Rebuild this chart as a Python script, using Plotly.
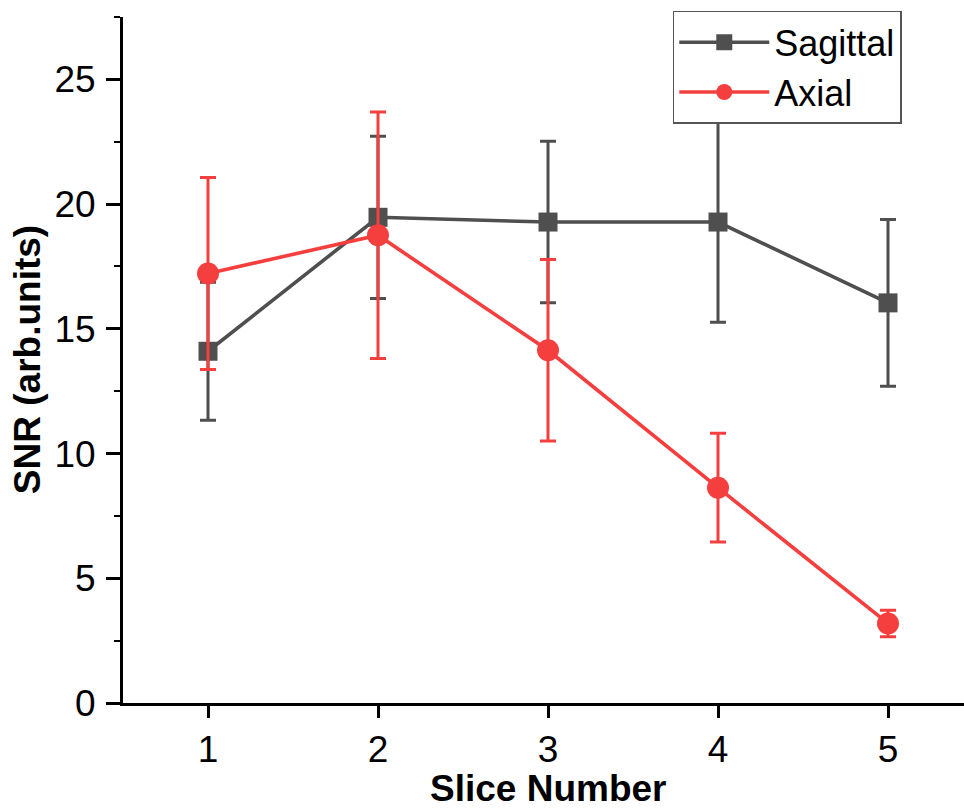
import plotly.graph_objects as go

slices = [1, 2, 3, 4, 5]
sagittal = [14.10, 19.47, 19.28, 19.28, 16.04]
sagittal_err = [2.77, 3.25, 3.24, 4.02, 3.34]
axial = [17.22, 18.75, 14.14, 8.63, 3.19]
axial_err = [3.85, 4.94, 3.64, 2.18, 0.53]

GRAY = "#4f4f4f"
RED = "#f53f3f"
FONT = "Liberation Sans, Arial, sans-serif"

fig = go.Figure()
fig.add_trace(go.Scatter(
    x=slices, y=sagittal, name="Sagittal", mode="lines+markers",
    line=dict(color=GRAY, width=3.6),
    marker=dict(symbol="square", size=19, color=GRAY),
    error_y=dict(type="data", array=sagittal_err, visible=True,
                 color=GRAY, thickness=3, width=8),
))
fig.add_trace(go.Scatter(
    x=slices, y=axial, name="Axial", mode="lines+markers",
    line=dict(color=RED, width=3.6),
    marker=dict(symbol="circle", size=22, color=RED),
    error_y=dict(type="data", array=axial_err, visible=True,
                 color=RED, thickness=3, width=8),
))

fig.update_layout(
    width=964, height=810,
    margin=dict(l=123, r=0, t=17, b=107),
    plot_bgcolor="white", paper_bgcolor="white",
    font=dict(family=FONT, size=37, color="black"),
    showlegend=True,
    legend=dict(
        x=0.926, y=1.009, xanchor="right", yanchor="top",
        bgcolor="white", bordercolor="#555555", borderwidth=1.5,
        font=dict(size=36, family=FONT),
        itemwidth=90, tracegroupgap=0,
    ),
    xaxis=dict(
        range=[0.5, 5.447], tickvals=slices, ticktext=[str(s) for s in slices],
        showgrid=False, zeroline=False,
        showline=True, linecolor="black", linewidth=3,
        ticks="outside", ticklen=12, tickwidth=2.5, tickcolor="black",
        tickfont=dict(size=37, family=FONT),
    ),
    yaxis=dict(
        range=[0, 27.5], tickvals=[0, 5, 10, 15, 20, 25],
        showgrid=False, zeroline=False,
        showline=True, linecolor="black", linewidth=3,
        ticks="outside", ticklen=14, tickwidth=2.5, tickcolor="black",
        tickfont=dict(size=37, family=FONT),
        ticklabelstandoff=3,
        minor=dict(dtick=2.5, tick0=0, ticks="outside", ticklen=6,
                   tickwidth=2, tickcolor="black", showgrid=False),
    ),
    annotations=[
        dict(text="<b>Slice Number</b>", x=3, xref="x", y=-0.125, yref="paper",
             xanchor="center", yanchor="middle", showarrow=False,
             font=dict(size=37, family=FONT)),
        dict(text="<b>SNR (arb.units)</b>", x=-0.114, xref="paper", y=0.5, yref="paper",
             xanchor="center", yanchor="middle", showarrow=False, textangle=-90,
             font=dict(size=37, family=FONT)),
    ],
)

fig.write_html("out.html")
